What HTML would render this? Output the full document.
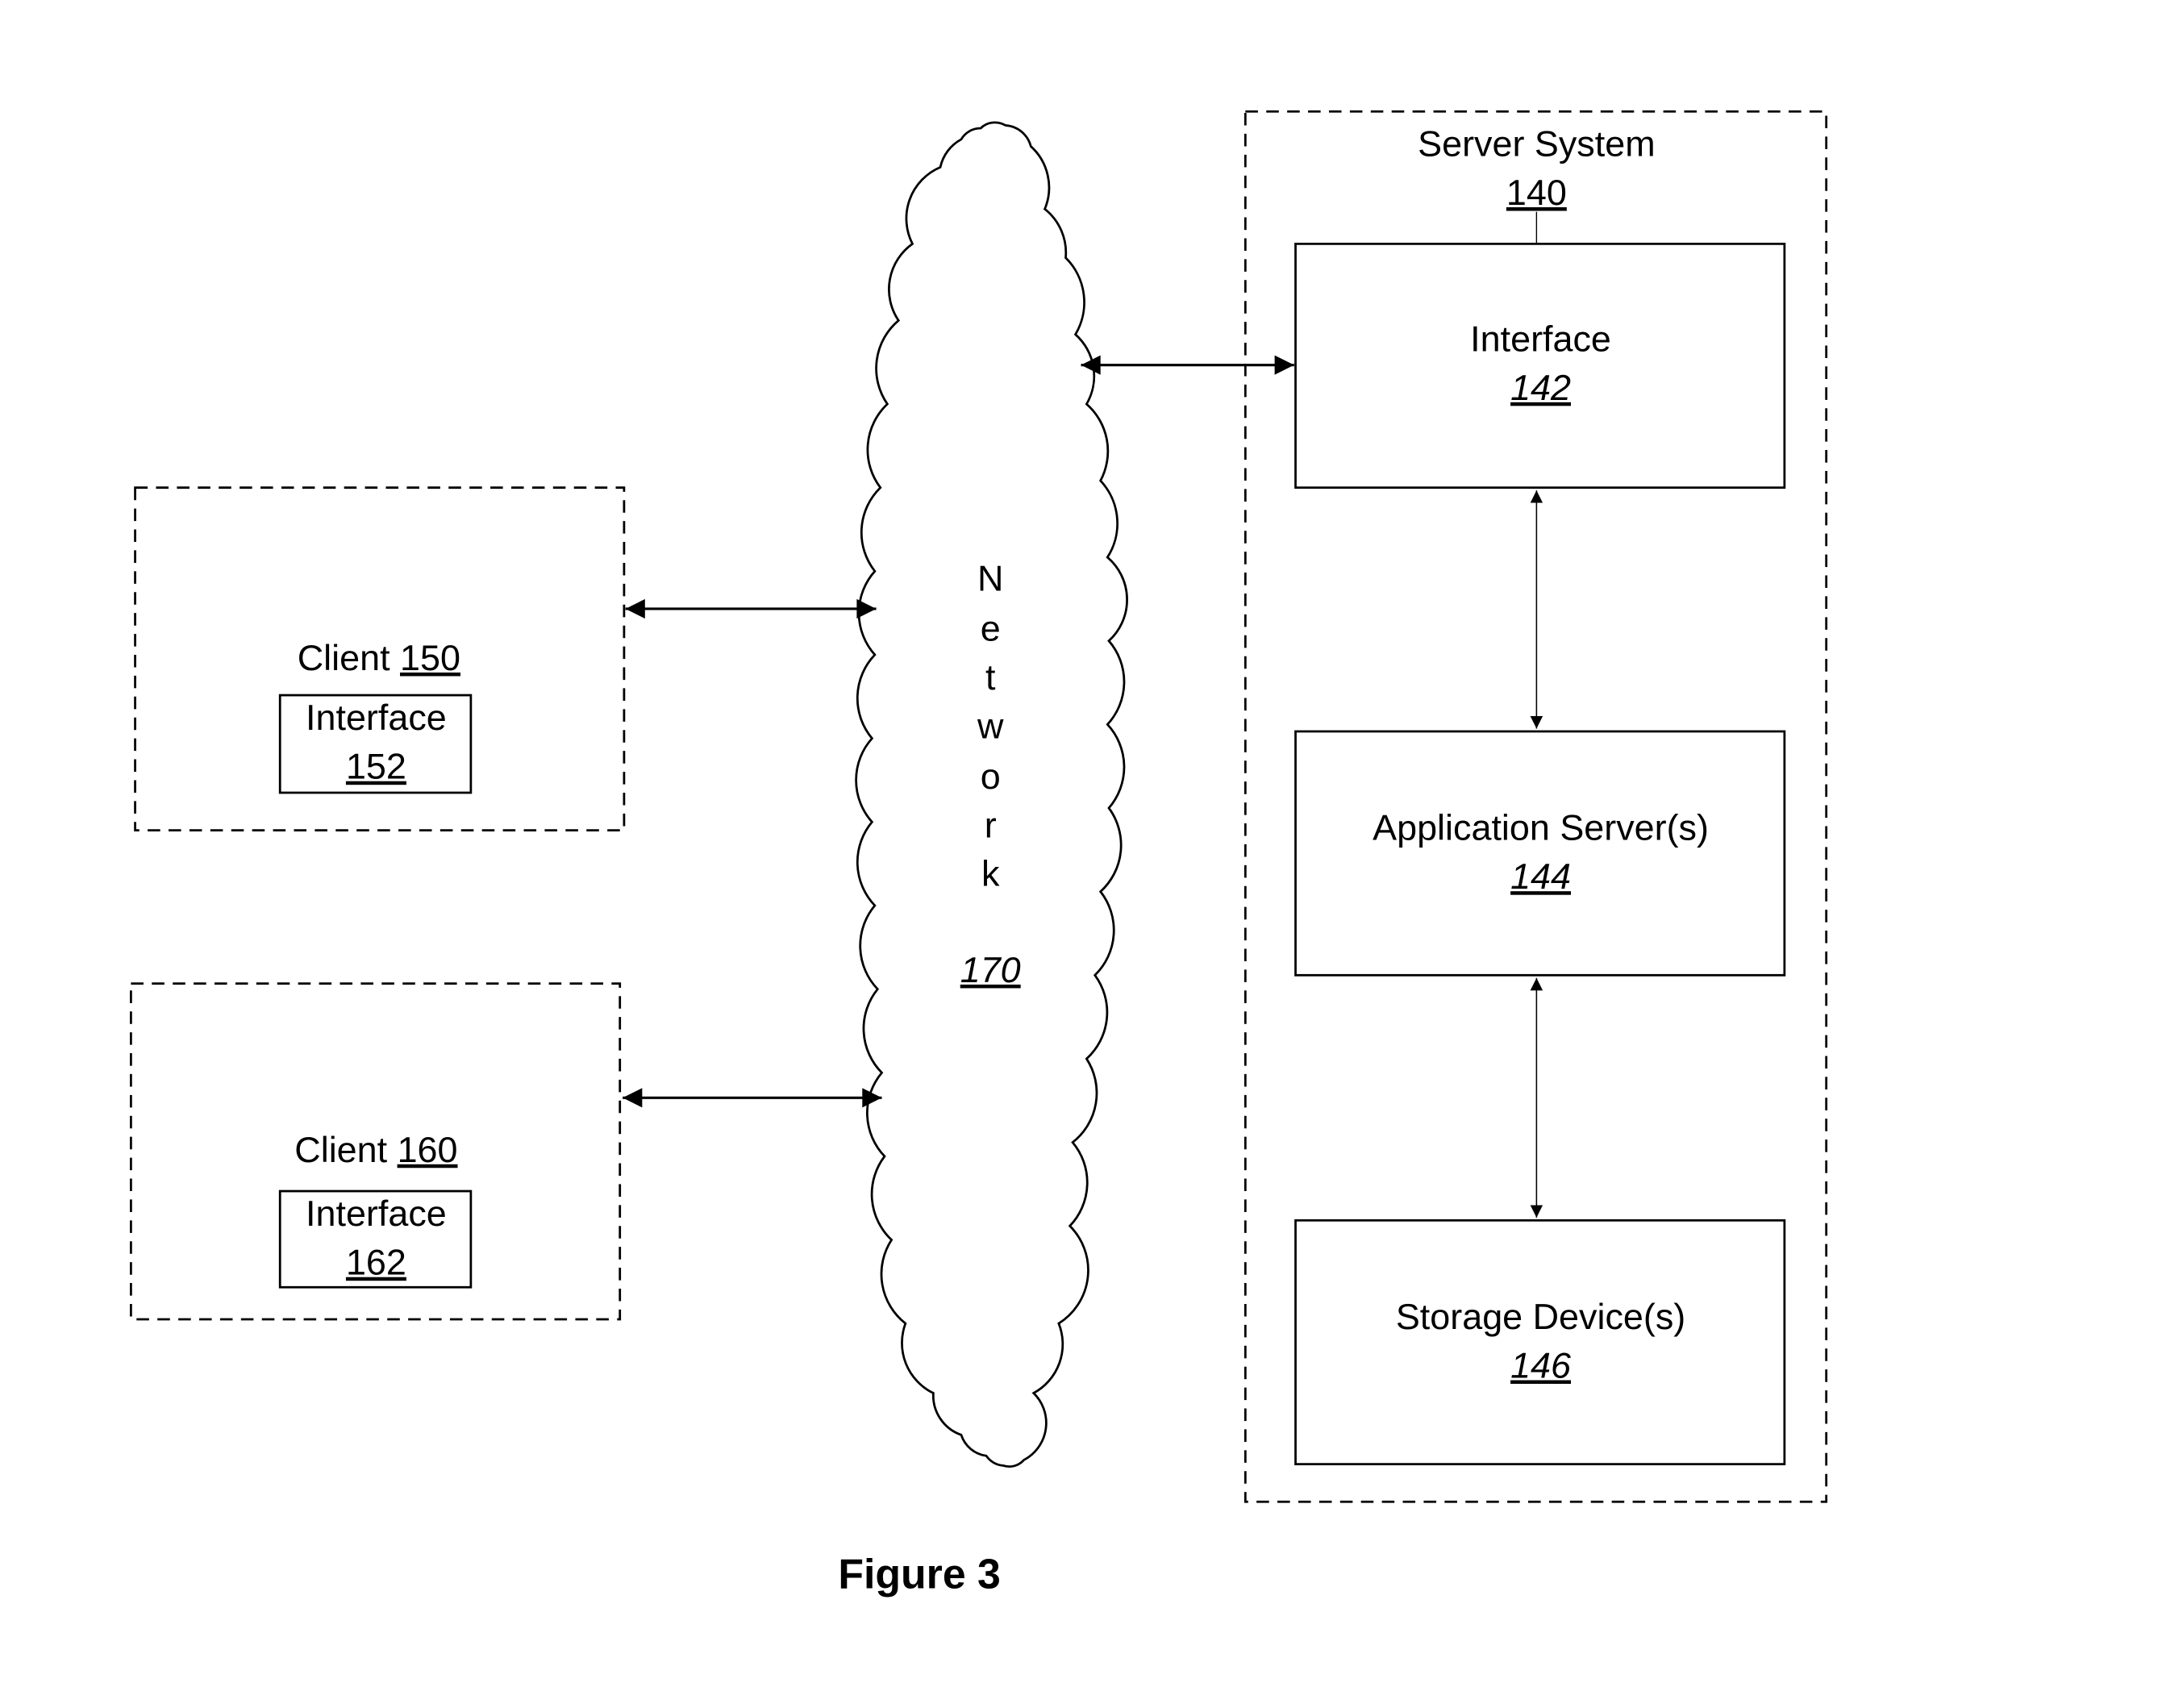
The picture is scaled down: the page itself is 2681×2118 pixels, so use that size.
<!DOCTYPE html>
<html><head><meta charset="utf-8"><style>
html,body{margin:0;padding:0;background:#fff;}
svg{display:block;}
text{font-family:"Liberation Sans",Arial,sans-serif;fill:#000;}
</style></head><body>
<svg width="2681" height="2118" viewBox="0 0 1552 1226" xmlns="http://www.w3.org/2000/svg">
<defs>
<marker id="a" viewBox="0 0 10 10" refX="10" refY="5" markerWidth="9" markerHeight="9" markerUnits="userSpaceOnUse" orient="auto-start-reverse">
<path d="M0,0 L10,5 L0,10 z" fill="#000"/>
</marker>
<marker id="b" viewBox="0 0 10 10" refX="10" refY="5" markerWidth="22" markerHeight="14" markerUnits="userSpaceOnUse" orient="auto-start-reverse">
<path d="M0,0 L10,5 L0,10 z" fill="#000"/>
</marker>
</defs>
<rect width="1552" height="1226" fill="#fff"/>
<g fill="none" stroke="#000" stroke-width="1.6">
<rect x="894" y="80" width="417" height="998" stroke-dasharray="9,6"/>
<rect x="97" y="350" width="351" height="246" stroke-dasharray="9,6"/>
<rect x="94" y="706" width="351" height="241" stroke-dasharray="9,6"/>
<rect x="930" y="175" width="351" height="175"/>
<rect x="930" y="525" width="351" height="175"/>
<rect x="930" y="876" width="351" height="175"/>
<rect x="201" y="499" width="137" height="70"/>
<rect x="201" y="855" width="137" height="69"/>
<line x1="1103" y1="152" x2="1103" y2="175" stroke-width="0.8"/>
<path d="M704,92 A14,14 0 0 1 712,88 A16,16 0 0 1 722,90 A20,20 0 0 1 740,105 A40,40 0 0 1 750,150 A40,40 0 0 1 765,185 A45,45 0 0 1 772,240 A40,40 0 0 1 780,290 A45,45 0 0 1 790,345 A45,45 0 0 1 795,400 A40,40 0 0 1 796,460 A45,45 0 0 1 795,520 A45,45 0 0 1 796,580 A45,45 0 0 1 790,640 A45,45 0 0 1 786,700 A45,45 0 0 1 780,760 A45,45 0 0 1 770,820 A45,45 0 0 1 768,880 A45,45 0 0 1 760,950 A40,40 0 0 1 742,1000 A30,30 0 0 1 735,1048 A14,14 0 0 1 720,1052 A16,16 0 0 1 708,1045 A22,22 0 0 1 690,1030 A30,30 0 0 1 670,1000 A40,40 0 0 1 650,950 A45,45 0 0 1 640,890 A45,45 0 0 1 635,830 A45,45 0 0 1 633,770 A45,45 0 0 1 630,710 A45,45 0 0 1 628,650 A45,45 0 0 1 626,590 A45,45 0 0 1 626,530 A45,45 0 0 1 628,470 A45,45 0 0 1 628,410 A45,45 0 0 1 632,350 A45,45 0 0 1 637,290 A45,45 0 0 1 645,230 A40,40 0 0 1 655,175 A40,40 0 0 1 675,120 A30,30 0 0 1 690,100 A16,16 0 0 1 704,92 Z"/>
<line x1="1103" y1="352" x2="1103" y2="523" stroke-width="0.9" marker-start="url(#a)" marker-end="url(#a)"/>
<line x1="1103" y1="702" x2="1103" y2="874" stroke-width="0.9" marker-start="url(#a)" marker-end="url(#a)"/>
<line x1="776" y1="262" x2="929" y2="262" stroke-width="1.8" marker-start="url(#b)" marker-end="url(#b)"/>
<line x1="449" y1="437" x2="629" y2="437" stroke-width="1.8" marker-start="url(#b)" marker-end="url(#b)"/>
<line x1="447" y1="788" x2="633" y2="788" stroke-width="1.8" marker-start="url(#b)" marker-end="url(#b)"/>
</g>
<g font-size="26" text-anchor="middle">
<text x="1103" y="112">Server System</text>
<text x="1103" y="147" text-decoration="underline">140</text>
<text x="1106" y="252">Interface</text>
<text x="1106" y="287" font-style="italic" text-decoration="underline">142</text>
<text x="1106" y="603">Application Server(s)</text>
<text x="1106" y="638" font-style="italic" text-decoration="underline">144</text>
<text x="1106" y="954">Storage Device(s)</text>
<text x="1106" y="989" font-style="italic" text-decoration="underline">146</text>
<text x="272" y="481">Client <tspan text-decoration="underline">150</tspan></text>
<text x="270" y="524">Interface</text>
<text x="270" y="559" text-decoration="underline">152</text>
<text x="270" y="834">Client <tspan text-decoration="underline">160</tspan></text>
<text x="270" y="880">Interface</text>
<text x="270" y="915" text-decoration="underline">162</text>
<text x="711" y="424">N</text>
<text x="711" y="460">e</text>
<text x="711" y="495">t</text>
<text x="711" y="530">w</text>
<text x="711" y="566">o</text>
<text x="711" y="601">r</text>
<text x="711" y="636">k</text>
<text x="711" y="705" font-style="italic" text-decoration="underline">170</text>
<text x="660" y="1140" font-size="30" font-weight="bold">Figure 3</text>
</g>
</svg>
</body></html>
